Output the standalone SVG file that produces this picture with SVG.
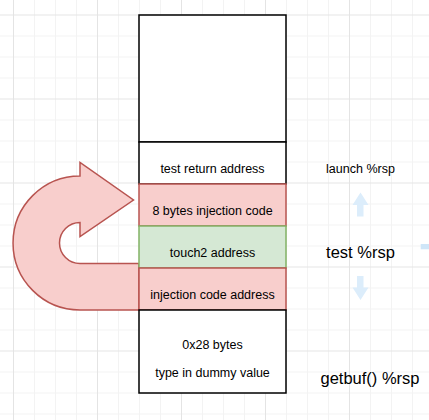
<svg xmlns="http://www.w3.org/2000/svg" width="429" height="420" viewBox="0 0 429 420">
<style>
.t{font-family:"Liberation Sans",Arial,Helvetica,sans-serif;font-size:12.5px;fill:#000;text-anchor:middle}
.big{font-size:16.5px}
.w{fill:#fff;stroke:#000;stroke-width:1.5}
.r{fill:#f8cecc;stroke:#b85450;stroke-width:1.5}
.g{fill:#d5e8d4;stroke:#82b366;stroke-width:1.5}
.b{fill:#dcedfb;stroke:none}
</style>
<defs>
<pattern id="grid" patternUnits="userSpaceOnUse" x="13" y="14.5" width="84" height="84">
<path d="M21.5,0V84M42.5,0V84M63.5,0V84M0,21.5H84M0,42.5H84M0,63.5H84" stroke="#f3f3f3" stroke-width="1" fill="none"/>
<path d="M0.5,0V84M0,0.5H84" stroke="#e4e4e4" stroke-width="1" fill="none"/>
</pattern>
</defs>
<rect width="429" height="420" fill="#fff"/>
<rect width="429" height="420" fill="url(#grid)"/>
<g id="connectors"></g>
<g id="uturn-arrow">
<path class="r" d="M139,310 L80,310 A67,67 0 0 1 80,176 L80,162.5 L133.5,200 L80,236.5 L80,222.5 A20.5,20.5 0 0 0 80,263.5 L139,263.5 Z"/>
</g>
<g id="empty-box"><rect class="w" x="139" y="15" width="147" height="127"/></g>
<g id="test-return"><rect class="w" x="139" y="142" width="147" height="42"/><text class="t" x="212.5" y="172.5">test return address</text></g>
<g id="inject8"><rect class="r" x="139" y="184" width="147" height="42"/><text class="t" x="212.5" y="214.5">8 bytes injection code</text></g>
<g id="touch2"><rect class="g" x="139" y="226" width="147" height="42"/><text class="t" x="212.5" y="256.5">touch2 address</text></g>
<g id="inject-addr"><rect class="r" x="139" y="268" width="147" height="42"/><text class="t" x="212.5" y="298.5">injection code address</text></g>
<g id="dummy"><rect class="w" x="139" y="310" width="147" height="83"/><text class="t" x="212.5" y="348.5">0x28 bytes</text><text class="t" x="212.5" y="377">type in dummy value</text></g>
<g id="launch-rsp"><text class="t" x="360.5" y="172.5">launch %rsp</text></g>
<g id="test-rsp"><text class="t big" x="360.5" y="258">test %rsp</text></g>
<g id="getbuf-rsp"><text class="t big" x="370" y="383.5">getbuf() %rsp</text></g>
<g id="arrow-up"><path class="b" d="M360.5,192.5 L368.5,205 L363.5,205 L363.5,216.5 L357,216.5 L357,205 L352.5,205 Z"/></g>
<g id="arrow-down"><path class="b" d="M357,276 L363.5,276 L363.5,287.5 L368.5,287.5 L360.5,300 L352.5,287.5 L357,287.5 Z"/></g>
<g id="arrow-stub"><rect x="420.7" y="244" width="9" height="5.3" fill="#cfe6f8"/></g>
</svg>
